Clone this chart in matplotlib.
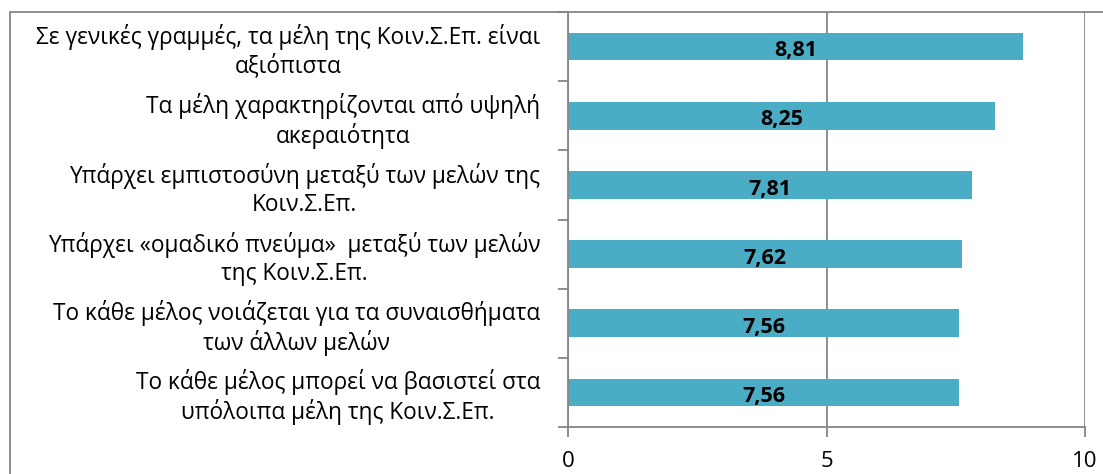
import matplotlib
matplotlib.use("Agg")
import matplotlib.pyplot as plt
from matplotlib.patches import Rectangle
import matplotlib.transforms as mtransforms
import numpy as np

categories = [
    "Σε γενικές γραμμές, τα μέλη της Κοιν.Σ.Επ. είναι\nαξιόπιστα",
    "Τα μέλη χαρακτηρίζονται από υψηλή\nακεραιότητα",
    "Υπάρχει εμπιστοσύνη μεταξύ των μελών της\nΚοιν.Σ.Επ.",
    "Υπάρχει «ομαδικό πνεύμα»  μεταξύ των μελών\nτης Κοιν.Σ.Επ.",
    "Το κάθε μέλος νοιάζεται για τα συναισθήματα\nτων άλλων μελών",
    "Το κάθε μέλος μπορεί να βασιστεί στα\nυπόλοιπα μέλη της Κοιν.Σ.Επ.",
]
values = [8.81, 8.25, 7.81, 7.62, 7.56, 7.56]
xticks = [0, 5, 10]

plt.rcParams['font.family'] = ['Open Sans', 'DejaVu Sans']
GREY = '#868686'
BAR = '#4BACC6'

fig = plt.figure(figsize=(11.03, 4.74), dpi=100)
ax = fig.add_axes([568/1103, 1-427/474, (1085-568)/1103, (427-12)/474])

y = np.arange(len(categories))
ax.barh(y, values, height=0.4, color=BAR, zorder=2)
for yi, v in zip(y, values):
    ax.text(v/2, yi + 0.06, f"{v:.2f}".replace('.', ','), ha='center', va='center',
            fontsize=15.5, fontweight='bold', color='black', zorder=3)

ax.set_xlim(0, 10)
ax.set_ylim(len(categories)-0.5, -0.5)
ax.set_xticks(xticks)
ax.set_xticklabels([str(t) for t in xticks], fontsize=16)
ax.set_yticks(y)
ax.set_yticklabels(categories, fontsize=16.3)
shift = mtransforms.ScaledTranslation(0, 3/100, fig.dpi_scale_trans)
for lab in ax.get_yticklabels():
    lab.set_multialignment('center')
    lab.set_linespacing(1.2)
    lab.set_transform(lab.get_transform() + shift)
ax.set_yticks(np.arange(-0.5, len(categories)), minor=True)
ax.tick_params(axis='y', which='major', length=0, pad=20)
ax.tick_params(axis='y', which='minor', length=7, width=1.3, color=GREY, direction='out')
ax.tick_params(axis='x', length=7, width=1.3, color=GREY, direction='out', pad=10)
ax.grid(axis='x', color=GREY, linewidth=1.3, zorder=1)
for s in ['top', 'right']:
    ax.spines[s].set_visible(False)
for s in ['left', 'bottom']:
    ax.spines[s].set_color(GREY)
    ax.spines[s].set_linewidth(1.3)
ax.set_axisbelow(True)

fig.add_artist(Rectangle((10/1103, -0.1), 1.2, 0.1 + 1-12/474, transform=fig.transFigure,
                         fill=False, edgecolor=GREY, linewidth=1.3))

fig.savefig('out.png', dpi=100)
